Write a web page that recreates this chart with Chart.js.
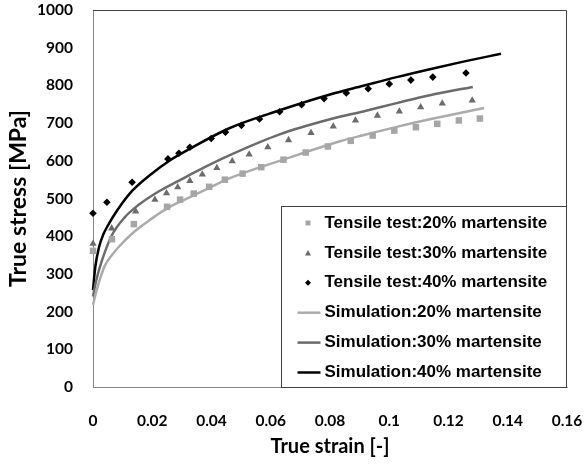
<!DOCTYPE html>
<html>
<head>
<meta charset="utf-8">
<title>True stress vs true strain</title>
<script src="https://cdn.jsdelivr.net/npm/chart.js@4.4.1/dist/chart.umd.min.js"></script>
<style>
  html, body { margin: 0; padding: 0; background: #fff; }
</style>
</head>
<body>
<canvas id="stress-chart" width="585" height="464"></canvas>
<script>
// tick labels
const xTickLabels = ["0", "0.02", "0.04", "0.06", "0.08", "0.1", "0.12", "0.14", "0.16"];
const yTickLabels = ["0", "100", "200", "300", "400", "500", "600", "700", "800", "900", "1000"];

// tensile test points
const test20Strain = [0, 0.0064, 0.0138, 0.025, 0.0294, 0.034, 0.0392, 0.0445, 0.0505, 0.0568, 0.0643, 0.0718, 0.0793, 0.087, 0.0944, 0.1017, 0.109, 0.1162, 0.1235, 0.1306];
const test20Stress = [361, 392, 432, 478, 497, 513, 531, 550, 566, 583, 603, 622, 638, 653, 667, 680, 689, 698, 707, 712];

const test30Strain = [0, 0.0063, 0.0144, 0.0209, 0.0248, 0.0286, 0.0327, 0.0369, 0.0418, 0.047, 0.0527, 0.059, 0.066, 0.0736, 0.0811, 0.0886, 0.096, 0.1034, 0.1106, 0.1179, 0.128];
const test30Stress = [380, 421, 466, 497, 514, 530, 547, 564, 581, 599, 617, 636, 655, 674, 691, 707, 720, 731, 742, 752, 760];

const test40Strain = [0, 0.0047, 0.0132, 0.0253, 0.029, 0.0327, 0.0399, 0.0447, 0.0501, 0.0562, 0.063, 0.0704, 0.078, 0.0855, 0.0929, 0.1, 0.1073, 0.1147, 0.1259];
const test40Stress = [461, 490, 543, 605, 620, 636, 659, 676, 694, 711, 730, 749, 765, 780, 791, 804, 814, 822, 833];

// simulation curves
const sim20Strain = [0, 0.001, 0.0025, 0.004, 0.006, 0.0085, 0.0141, 0.0197, 0.0253, 0.031, 0.0377, 0.0462, 0.0642, 0.0834, 0.0912, 0.1025, 0.1137, 0.132];
const sim20Stress = [218, 250, 290, 322, 346, 370, 413, 446, 475, 497, 522, 554, 603, 652, 668, 690, 710, 740];

const sim30Strain = [0, 0.001, 0.003, 0.0062, 0.0107, 0.0152, 0.022, 0.0287, 0.0377, 0.0462, 0.063, 0.08, 0.0912, 0.1025, 0.1137, 0.1282];
const sim30Stress = [240, 280, 335, 400, 450, 482, 518, 546, 583, 615, 670, 710, 731, 753, 774, 796];

const sim40Strain = [0, 0.0008, 0.002, 0.0035, 0.005, 0.0083, 0.0132, 0.0197, 0.0259, 0.0327, 0.0462, 0.063, 0.08, 0.0912, 0.1025, 0.1137, 0.125, 0.1377];
const sim40Stress = [257, 320, 370, 405, 428, 470, 520, 565, 601, 632, 687, 734, 776, 799, 822, 843, 863, 884];

const toPoints = (xs, ys) => xs.map((x, i) => ({ x: x, y: ys[i] }));

const tickFont = { family: "Lato", weight: "bold", size: 15.5 };

// top and right edge of the plot frame (left/bottom come from the axes)
const plotFrame = {
  id: "plotFrame",
  beforeDatasetsDraw(chart) {
    const { ctx, chartArea: a } = chart;
    ctx.save();
    ctx.strokeStyle = "#404040";
    ctx.lineWidth = 1;
    ctx.beginPath();
    ctx.moveTo(a.left, Math.round(a.top) + 0.5);
    ctx.lineTo(Math.round(a.right) - 0.5, Math.round(a.top) + 0.5);
    ctx.lineTo(Math.round(a.right) - 0.5, a.bottom);
    ctx.stroke();
    ctx.restore();
  },
};

// Excel-like boxed legend in the lower right of the plot
const boxLegend = {
  id: "boxLegend",
  afterDraw(chart) {
    const { ctx, chartArea: a } = chart;
    const w = 286;
    const h = 181;
    const left = Math.round(a.right - w) + 0.5;
    const top = Math.round(a.bottom - h) + 0.5;
    ctx.save();
    ctx.fillStyle = "#fff";
    ctx.fillRect(left, top, w, h);
    ctx.strokeStyle = "#404040";
    ctx.lineWidth = 1;
    ctx.strokeRect(left, top, w - 1, h);

    ctx.font = 'bold 17px "Liberation Sans"';
    ctx.textBaseline = "middle";
    ctx.textAlign = "left";

    chart.data.datasets.forEach((ds, i) => {
      const cy = top + 16.5 + i * 29.9;
      const mx = left + 26.5;
      if (ds.showLine) {
        ctx.strokeStyle = ds.borderColor;
        ctx.lineWidth = ds.borderWidth;
        ctx.beginPath();
        ctx.moveTo(left + 16, cy);
        ctx.lineTo(left + 39, cy);
        ctx.stroke();
      } else {
        ctx.fillStyle = ds.backgroundColor;
        ctx.beginPath();
        if (ds.pointStyle === "rect") {
          ctx.rect(mx - 2.5, cy - 2.5, 5, 5);
        } else if (ds.pointStyle === "triangle") {
          ctx.moveTo(mx, cy - 3);
          ctx.lineTo(mx + 3, cy + 2.5);
          ctx.lineTo(mx - 3, cy + 2.5);
          ctx.closePath();
        } else {
          ctx.moveTo(mx, cy - 3);
          ctx.lineTo(mx + 3, cy);
          ctx.lineTo(mx, cy + 3);
          ctx.lineTo(mx - 3, cy);
          ctx.closePath();
        }
        ctx.fill();
      }
      ctx.fillStyle = "#000";
      ctx.fillText(ds.label, left + 43, cy);
    });
    ctx.restore();
  },
};

const scatterSet = (label, xs, ys, style, color, radius) => ({
  label: label,
  data: toPoints(xs, ys),
  showLine: false,
  pointStyle: style,
  pointRadius: radius,
  pointBorderWidth: 0,
  backgroundColor: color,
  borderColor: color,
  clip: false,
});

const lineSet = (label, xs, ys, color) => ({
  label: label,
  data: toPoints(xs, ys),
  showLine: true,
  pointRadius: 0,
  borderColor: color,
  backgroundColor: color,
  borderWidth: 2.5,
  cubicInterpolationMode: "monotone",
  clip: false,
});

new Chart(document.getElementById("stress-chart").getContext("2d"), {
  type: "scatter",
  data: {
    datasets: [
      scatterSet("Tensile test:20% martensite", test20Strain, test20Stress, "rect", "#a6a6a6", 4.6),
      scatterSet("Tensile test:30% martensite", test30Strain, test30Stress, "triangle", "#6b6b6b", 4.2),
      scatterSet("Tensile test:40% martensite", test40Strain, test40Stress, "rectRot", "#000000", 3.8),
      lineSet("Simulation:20% martensite", sim20Strain, sim20Stress, "#ababab"),
      lineSet("Simulation:30% martensite", sim30Strain, sim30Stress, "#6b6b6b"),
      lineSet("Simulation:40% martensite", sim40Strain, sim40Stress, "#000000"),
    ],
  },
  options: {
    responsive: false,
    animation: false,
    events: [],
    layout: { padding: { left: 0, right: 18, top: 10, bottom: 0 } },
    plugins: {
      legend: { display: false },
      tooltip: { enabled: false },
    },
    scales: {
      x: {
        type: "linear",
        min: 0,
        max: 0.16,
        grid: { display: false, drawTicks: false },
        border: { display: true, color: "#868686", width: 1 },
        ticks: {
          stepSize: 0.02,
          padding: 25,
          color: "#000",
          font: tickFont,
          maxRotation: 0,
          callback: (value, index) => xTickLabels[index],
        },
        title: {
          display: true,
          text: "True strain [-]",
          color: "#000",
          font: { family: "Lato", weight: "bold", size: 20 },
          padding: { top: 0, bottom: 5 },
        },
        afterFit: (scale) => {
          scale.height = 77;
          scale.paddingLeft = 0;
          scale.paddingRight = 0;
        },
      },
      y: {
        min: 0,
        max: 1000,
        grid: { display: false, drawTicks: false },
        border: { display: true, color: "#868686", width: 1 },
        ticks: {
          stepSize: 100,
          padding: 20,
          color: "#000",
          font: tickFont,
          callback: (value, index) => yTickLabels[index],
        },
        title: {
          display: true,
          text: "True stress [MPa]",
          color: "#000",
          font: { family: "Lato", weight: "bold", size: 23 },
          padding: { top: 5, bottom: 0 },
        },
        afterFit: (scale) => {
          scale.width = 93;
          scale.paddingTop = 0;
          scale.paddingBottom = 0;
        },
      },
    },
  },
  plugins: [plotFrame, boxLegend],
});
</script>
</body>
</html>
